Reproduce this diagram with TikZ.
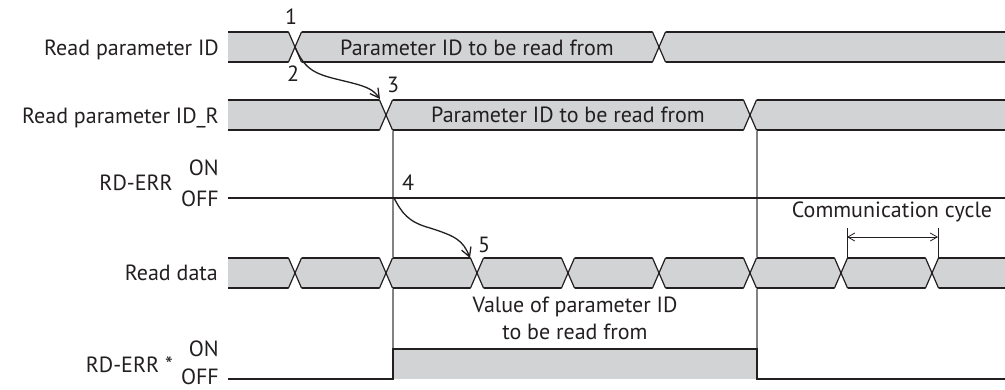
\documentclass[tikz,border=0pt]{standalone}
\usepackage{fontspec}
\setmainfont{PT Sans}
\usetikzlibrary{arrows.meta}
\definecolor{busgray}{HTML}{D1D3D4}
\definecolor{ink}{HTML}{231F20}
\definecolor{guide}{HTML}{808285}
\tikzset{
  busline/.style={draw=ink, line width=1.2pt},
  guideline/.style={draw=guide, line width=1.3pt},
  lbl/.style={text=ink, font=\fontsize{22}{27}\selectfont, inner sep=0pt},
  sig/.style={lbl, anchor=base east},
  num/.style={lbl, anchor=base},
  flow/.style={draw=ink, line width=1.3pt, -{Straight Barb[length=9pt,width=10pt]}},
  span/.style={draw=ink, line width=0.8pt, {Straight Barb[length=7pt,width=8pt]}-{Straight Barb[length=7pt,width=8pt]}},
}
% one bus row: #1 = middle y, #2 = list of crossings
\newcommand{\busrow}[2]{%
  \fill[busgray] (228,#1-15) rectangle (1005,#1+15);
  \draw[busline] (228,#1-15) -- (1005,#1-15) (228,#1+15) -- (1005,#1+15);
  \foreach \t in {#2} {
    \fill[white] (\t-6.5,#1-16) -- (\t+6.5,#1-16) -- (\t+6.5,#1-15) -- (\t,#1) -- (\t-6.5,#1-15) -- cycle;
    \fill[white] (\t-6.5,#1+16) -- (\t+6.5,#1+16) -- (\t+6.5,#1+15) -- (\t,#1) -- (\t-6.5,#1+15) -- cycle;
    \draw[busline] (\t-6.5,#1-15) -- (\t+6.5,#1+15) (\t-6.5,#1+15) -- (\t+6.5,#1-15);
  }%
}

\begin{document}
\begin{tikzpicture}[x=1pt,y=-1pt]
\useasboundingbox (0,0) rectangle (1005,389);
% guide lines
\draw[guideline] (393,130) -- (393,379);
\draw[guideline] (757,130) -- (757,379);
% buses
\busrow{47}{295,659}
\busrow{115}{386,750}
\busrow{273}{295,386,477,568,659,750,841,932}
% RD-ERR
\draw[busline] (228,198) -- (1005,198);
% RD-ERR *
\fill[busgray] (393,349) rectangle (757,379);
\draw[busline] (228,379) -- (393,379) -- (393,349) -- (757,349) -- (757,379) -- (1005,379);
% communication cycle
\coordinate (c1) at (847,237);
\coordinate (c2) at (938,237);
\draw[ink, line width=0.8pt] (847,228) -- (847,258) (938,228) -- (938,258);
\draw[span] (c1) -- (c2);
% flow arrows
\coordinate (p1) at (295,47);
\coordinate (p3) at (380,99);
\coordinate (p4) at (394,198);
\coordinate (p5) at (470,258);
\draw[flow] (p1) .. controls (305,70) and (315,74) .. (340,80) .. controls (365,86) and (372,88) .. (p3);
\draw[flow] (p4) .. controls (402,213) and (408,222) .. (430,228) .. controls (455,236) and (463,240) .. (p5);
% labels
\node[sig] (l1) at (219,55) {Read parameter ID};
\node[sig] (l2) at (219,123) {Read parameter ID\_R};
\node[sig] (l3) at (173,190) {RD-ERR};
\node[sig] (l3on) at (219,175) {ON};
\node[sig] (l3off) at (219,206) {OFF};
\node[sig] (l4) at (218,280) {Read data};
\node[sig] (l5) at (173,372) {RD-ERR *};
\node[sig] (l5on) at (219,356) {ON};
\node[sig] (l5off) at (219,384.5) {OFF};
\node[num] (t1) at (477,55) {Parameter ID to be read from};
\node[num] (t2) at (568,122) {Parameter ID to be read from};
\node[lbl, align=center, anchor=north] (t3) at (575,297) {Value of parameter ID\\to be read from};
\node[num] (t4) at (892,217) {Communication cycle};
\node[num] (n1) at (291,24) {1};
\node[num] (n2) at (293,81) {2};
\node[num] (n3) at (393,92) {3};
\node[num] (n4) at (408,190) {4};
\node[num] (n5) at (484,252) {5};
\end{tikzpicture}
\end{document}
